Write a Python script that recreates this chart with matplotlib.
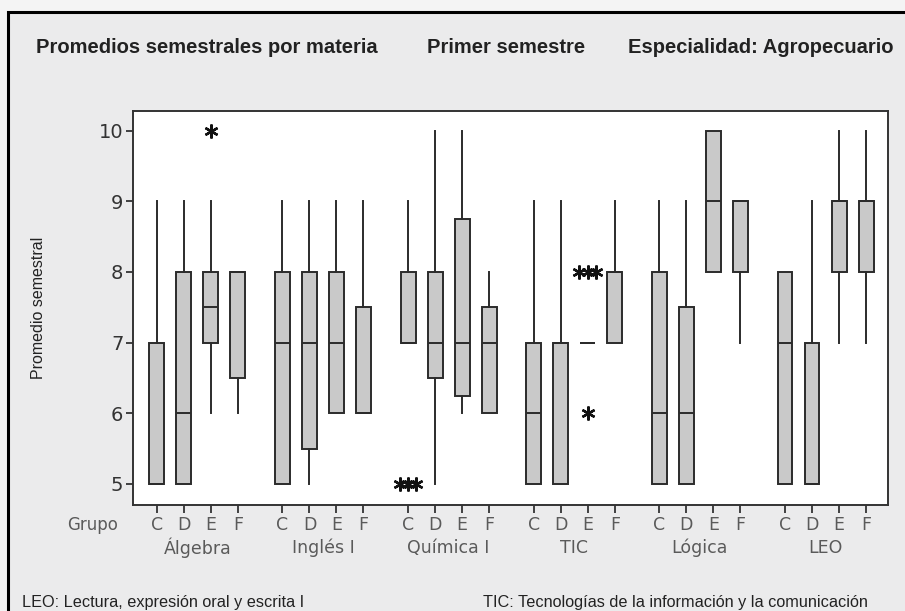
import numpy as np
import matplotlib
matplotlib.use("Agg")
import matplotlib.pyplot as plt
from matplotlib.patches import Rectangle
from matplotlib.transforms import blended_transform_factory

# --- data (one row per subject, columns C D E F) ---
SUBJECTS = ["Álgebra", "Inglés I", "Química I", "TIC", "Lógica", "LEO"]
GROUPS = ["C", "D", "E", "F"]
Q1 = [[5, 5, 7, 6.5], [5, 5.5, 6, 6], [7, 6.5, 6.25, 6], [5, 5, 7, 7], [5, 5, 8, 8], [5, 5, 8, 8]]
MED = [[5, 6, 7.5, 8], [7, 7, 7, 6], [7, 7, 7, 7], [6, 7, 7, 8], [6, 6, 9, 9], [7, 5, 9, 9]]
Q3 = [[7, 8, 8, 8], [8, 8, 8, 7.5], [8, 8, 8.75, 7.5], [7, 7, 7, 8], [8, 7.5, 10, 9], [8, 7, 9, 9]]
WLO = [[5, 5, 6, 6], [5, 5, 6, 6], [7, 5, 6, 6], [5, 5, 7, 7], [5, 5, 8, 7], [5, 5, 7, 7]]
WHI = [[9, 9, 9, 8], [9, 9, 9, 9], [9, 10, 10, 8], [9, 9, 7, 9], [9, 9, 10, 9], [8, 9, 10, 10]]
# outliers: (subject index, group index) -> values
OUTLIERS = {(0, 2): [10], (2, 0): [5, 5, 5], (3, 2): [8, 8, 8, 6]}

TITLES = ["Promedios semestrales por materia", "Primer semestre", "Especialidad: Agropecuario"]
NOTE_LEO = "LEO: Lectura, expresión oral y escrita I"
NOTE_TIC = "TIC: Tecnologías de la información y la comunicación"

GSTEP = 4.65   # spacing between subject blocks
BOXC = "#c9c9c9"
EDGE = "#2b2b2b"
GRAYTXT = "#5a5a5a"

W, H = 905, 611
fig = plt.figure(figsize=(W / 100, H / 100), dpi=100, facecolor="#f4f4f4")
# grey panel with black frame (Minitab graph region)
fig.patches.append(Rectangle((8 / W, -0.05), 1.2, 1 - 12 / H + 0.05, transform=fig.transFigure,
                             facecolor="#ebebec", edgecolor="black", lw=2.2, zorder=-10))

ax = fig.add_axes([133 / W, 1 - 505 / H, (888 - 133) / W, (505 - 111) / H])
ax.set_facecolor("white")

stats, pos = [], []
for s in range(len(SUBJECTS)):
    for g in range(len(GROUPS)):
        stats.append(dict(q1=Q1[s][g], med=MED[s][g], q3=Q3[s][g],
                          whislo=WLO[s][g], whishi=WHI[s][g], fliers=[]))
        pos.append(s * GSTEP + g)

ax.bxp(stats, positions=pos, widths=0.55, patch_artist=True, showfliers=False, showcaps=False,
       boxprops=dict(facecolor=BOXC, edgecolor=EDGE, lw=1.4),
       whiskerprops=dict(color=EDGE, lw=1.4),
       medianprops=dict(color=EDGE, lw=1.4))

# tied outliers are spread sideways, as Minitab does
for (s, g), vals in OUTLIERS.items():
    x0 = s * GSTEP + g
    for v in sorted(set(vals)):
        n = vals.count(v)
        offs = (np.arange(n) - (n - 1) / 2) * 0.31
        ax.plot(x0 + offs, [v] * n, ls="none", marker=(6, 2, 0), ms=10, mew=1.7, color="#111")

ax.set_xlim(-0.88, (len(SUBJECTS) - 1) * GSTEP + 3 + 0.81)
ax.set_ylim(4.70, 10.28)
ax.set_yticks([5, 6, 7, 8, 9, 10])
ax.set_xticks(pos)
ax.set_xticklabels(GROUPS * len(SUBJECTS), color=GRAYTXT, fontsize=12.5, family="DejaVu Sans")
ax.tick_params(axis="y", labelsize=14, colors="#333", length=5, width=1.3, pad=2)
ax.tick_params(axis="x", length=6, width=1.3, color="#333", pad=2)
for sp in ax.spines.values():
    sp.set_color("#333")
    sp.set_linewidth(1.4)
ax.set_ylabel("Promedio semestral", fontsize=11.5, family="Liberation Sans", color="#222", labelpad=38)

# subject names under the group letters
tr = blended_transform_factory(ax.transData, fig.transFigure)
for s, name in enumerate(SUBJECTS):
    ax.text(s * GSTEP + 1.5, 1 - 548 / H, name, transform=tr, ha="center", va="center",
            fontsize=12.5, color=GRAYTXT, family="DejaVu Sans")
fig.text(93 / W, 1 - 525 / H, "Grupo", ha="center", va="center", fontsize=12,
         color=GRAYTXT, family="DejaVu Sans")

# header line
for x, t in zip([36, 427, 628], TITLES):
    fig.text(x / W, 1 - 53 / H, t, ha="left", va="baseline", fontsize=14.5, fontweight="bold",
             color="#222", family="Liberation Sans")

fig.text(22 / W, 1 - 603 / H, NOTE_LEO, ha="left", va="center", fontsize=11.7,
         color="#222", family="Liberation Sans")
fig.text(483 / W, 1 - 603 / H, NOTE_TIC, ha="left", va="center", fontsize=11.7,
         color="#222", family="Liberation Sans")

fig.savefig("out.png", dpi=100, facecolor=fig.get_facecolor())
